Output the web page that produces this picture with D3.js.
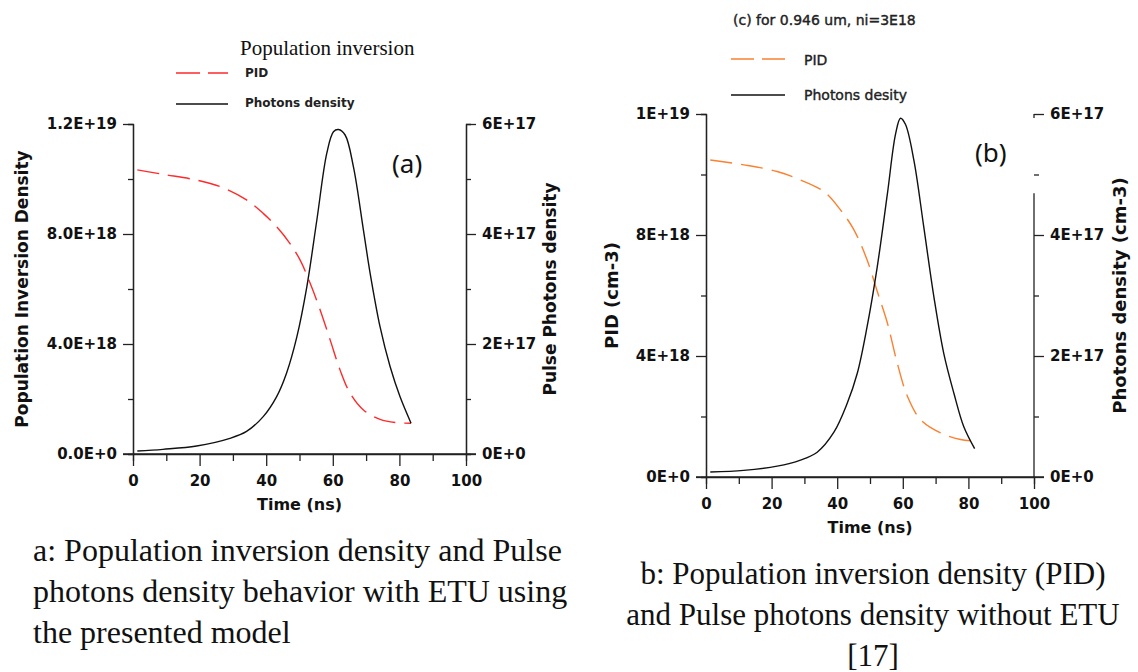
<!DOCTYPE html>
<html>
<head>
<meta charset="utf-8">
<script src="https://cdn.jsdelivr.net/npm/d3@7"></script>
<style>
body { margin: 0; background: #fff; }
svg { display: block; }
</style>
</head>
<body>
<script>
// panel (a): with ETU
var timePhotonsA = [1.3, 9, 19.1, 29.1, 34.1, 39.1, 43.1, 46.1, 49.2, 52.2, 55.2, 58.2, 60.2, 61.7, 63.7, 66.2, 69.2, 71.2, 74.2, 77.2, 80.2, 83.5]
var photonsA = [0.055, 0.085, 0.145, 0.285, 0.41, 0.68, 1.04, 1.47, 2.13, 3.04, 4.25, 5.47, 5.86, 5.90, 5.80, 5.22, 4.07, 3.29, 2.31, 1.59, 1.04, 0.56] // x1e17
var timePidA = [1.3, 9, 19.1, 27.1, 34.1, 39.1, 43.1, 47.1, 50.2, 53.2, 56.2, 59.2, 62.2, 65.2, 69.2, 74.2, 79.2, 83.5]
var pidA = [10.33, 10.17, 9.96, 9.68, 9.24, 8.75, 8.27, 7.66, 7.05, 6.21, 5.24, 4.15, 3.05, 2.21, 1.60, 1.26, 1.14, 1.12] // x1e18

// panel (b): without ETU
var timePhotonsB = [1.3, 11.5, 21.7, 28.8, 33.9, 39, 43, 46.1, 49.1, 52.2, 55.3, 57.8, 59.3, 60.8, 63.4, 66.4, 69.5, 72.5, 75.6, 78.6, 81.9]
var photonsB = [0.083, 0.11, 0.18, 0.28, 0.41, 0.74, 1.21, 1.71, 2.48, 3.47, 4.68, 5.67, 5.93, 5.83, 5.23, 4.13, 2.97, 2.04, 1.38, 0.83, 0.47]
var timePidB = [1.3, 11.5, 21.7, 28.8, 35.9, 41, 45.1, 49.1, 52.2, 55.3, 58.3, 61.4, 65.4, 71.5, 77.6, 81.7]
var pidB = [10.48, 10.32, 10.10, 9.82, 9.44, 8.83, 8.17, 7.18, 6.14, 5.09, 3.77, 2.67, 1.90, 1.46, 1.24, 1.19]

var xTicks = [0, 20, 40, 60, 80, 100]
var leftTickValues = [0, 4, 8, 12]
var leftLabelsA = ["0.0E+0", "4.0E+18", "8.0E+18", "1.2E+19"]
var leftLabelsB = ["0E+0", "4E+18", "8E+18", "1E+19"]
var rightTickValues = [0, 2, 4, 6]
var rightLabels = ["0E+0", "2E+17", "4E+17", "6E+17"]

var svgWidth = 1138
var svgHeight = 672
var sans = "DejaVu Sans"
var serif = "Liberation Serif"
var axisColor = "#222"

var svg = d3.select("body")
    .append("svg")
    .attr("width", svgWidth)
    .attr("height", svgHeight)

function styleAxis(g) {
    g.selectAll("path, line").attr("stroke", axisColor).attr("stroke-width", 1.3)
    g.selectAll("text")
        .attr("fill", "#111")
        .attr("font-family", sans)
        .attr("font-weight", "bold")
        .attr("font-size", "15px")
}

function drawPanel(p) {
    var x = d3.scaleLinear().domain([0, 100]).range([p.left, p.right])
    var yL = d3.scaleLinear().domain([0, 12]).range([p.bottom, p.top])
    var yR = d3.scaleLinear().domain([0, 6]).range([p.bottom, p.top])

    // minor ticks
    svg.append("g").attr("transform", `translate(0,${p.bottom})`)
        .call(d3.axisBottom(x).tickValues(d3.range(10, 100, 20)).tickSize(7).tickFormat(""))
        .call(styleAxis)
    svg.append("g").attr("transform", `translate(${p.left},0)`)
        .call(d3.axisLeft(yL).tickValues([2, 6, 10]).tickSize(5).tickFormat(""))
        .call(styleAxis)
    var rMinor = svg.append("g").attr("transform", `translate(${p.right},0)`)
        .call(d3.axisRight(yR).tickValues([1, 3, 5]).tickSize(5).tickFormat(""))
        .call(styleAxis)

    // major ticks
    var xAxis = svg.append("g").attr("transform", `translate(0,${p.bottom})`)
        .call(d3.axisBottom(x).tickValues(xTicks).tickSize(12).tickPadding(9).tickSizeOuter(0))
        .call(styleAxis)
    var yAxisL = svg.append("g").attr("transform", `translate(${p.left},0)`)
        .call(d3.axisLeft(yL).tickValues(leftTickValues).tickSize(10).tickPadding(6).tickSizeOuter(0)
            .tickFormat((d, i) => p.leftLabels[i]))
        .call(styleAxis)
    var yAxisR = svg.append("g").attr("transform", `translate(${p.right},0)`)
        .call(d3.axisRight(yR).tickValues(rightTickValues).tickSize(10).tickPadding(6).tickSizeOuter(0)
            .tickFormat((d, i) => rightLabels[i]))
        .call(styleAxis)

    // x axis line runs past the frame like in the source plot
    xAxis.select(".domain").remove()
    xAxis.append("line")
        .attr("x1", p.left - 10).attr("x2", p.right + 10)
        .attr("stroke", axisColor).attr("stroke-width", 1.3)

    if (p.brokenRight) {
        rMinor.select(".domain").remove()
        yAxisR.select(".domain").remove()
        yAxisR.append("line").attr("y1", yR(6)).attr("y2", yR(6) + 4)
            .attr("stroke", axisColor).attr("stroke-width", 1.3)
        yAxisR.append("line").attr("y1", yR(4.69)).attr("y2", p.bottom)
            .attr("stroke", axisColor).attr("stroke-width", 1.3)
    }

    // curves
    var pidLine = d3.line()
        .x((d, i) => x(p.timePid[i]))
        .y(d => yL(d))
        .curve(d3.curveCatmullRom.alpha(0.5))
    var photonLine = d3.line()
        .x((d, i) => x(p.timePhotons[i]))
        .y(d => yR(d))
        .curve(d3.curveCatmullRom.alpha(0.5))

    svg.append("path")
        .datum(p.pid)
        .attr("d", pidLine)
        .attr("fill", "none")
        .attr("stroke", p.pidColor)
        .attr("stroke-width", 1.4)
        .attr("stroke-dasharray", "22,9")
    svg.append("path")
        .datum(p.photons)
        .attr("d", photonLine)
        .attr("fill", "none")
        .attr("stroke", "#111")
        .attr("stroke-width", 1.4)

    // axis titles
    svg.append("text")
        .attr("x", (p.left + p.right) / 2)
        .attr("y", p.bottom + 56)
        .attr("text-anchor", "middle")
        .attr("font-family", sans).attr("font-weight", "bold").attr("font-size", "16px")
        .attr("fill", "#111")
        .text("Time (ns)")
    svg.append("text")
        .attr("transform", `translate(${p.leftTitleX},${(p.top + p.bottom) / 2}) rotate(-90)`)
        .attr("text-anchor", "middle")
        .attr("dy", "0.35em")
        .attr("font-family", sans).attr("font-weight", "bold").attr("font-size", p.titleSize)
        .attr("fill", "#111")
        .text(p.leftTitle)
    svg.append("text")
        .attr("transform", `translate(${p.rightTitleX},${(p.top + p.bottom) / 2}) rotate(-90)`)
        .attr("text-anchor", "middle")
        .attr("dy", "0.35em")
        .attr("font-family", sans).attr("font-weight", "bold").attr("font-size", p.titleSize)
        .attr("fill", "#111")
        .text(p.rightTitle)

    // panel tag
    svg.append("text")
        .attr("x", p.tagX).attr("y", p.tagY)
        .attr("font-family", "Noto Sans").attr("font-size", "26px")
        .attr("fill", "#111")
        .text(p.tag)
}

drawPanel({
    left: 133, right: 466, top: 124, bottom: 454,
    leftLabels: leftLabelsA,
    timePid: timePidA, pid: pidA, timePhotons: timePhotonsA, photons: photonsA,
    pidColor: "#ff2a2a",
    leftTitle: "Population Inversion Density", leftTitleX: 22,
    rightTitle: "Pulse Photons density", rightTitleX: 550,
    titleSize: "17px",
    tag: "(a)", tagX: 392, tagY: 173,
    brokenRight: false
})

drawPanel({
    left: 706, right: 1034, top: 114, bottom: 477,
    leftLabels: leftLabelsB,
    timePid: timePidB, pid: pidB, timePhotons: timePhotonsB, photons: photonsB,
    pidColor: "#fb8030",
    leftTitle: "PID (cm-3)", leftTitleX: 612,
    rightTitle: "Photons density (cm-3)", rightTitleX: 1120,
    titleSize: "18px",
    tag: "(b)", tagX: 975, tagY: 162,
    brokenRight: true
})

// legend (a)
svg.append("text")
    .attr("x", 240).attr("y", 55)
    .attr("font-family", serif).attr("font-size", "21px")
    .attr("fill", "#111")
    .text("Population inversion")
svg.append("line")
    .attr("x1", 176).attr("x2", 228).attr("y1", 73).attr("y2", 73)
    .attr("stroke", "#ff2a2a").attr("stroke-width", 1.4).attr("stroke-dasharray", "24,8")
svg.append("line")
    .attr("x1", 176).attr("x2", 228).attr("y1", 104).attr("y2", 104)
    .attr("stroke", "#111").attr("stroke-width", 1.4)
svg.append("text")
    .attr("x", 245).attr("y", 73).attr("dy", "0.35em")
    .attr("font-family", sans).attr("font-weight", "bold").attr("font-size", "12px")
    .attr("fill", "#222")
    .text("PID")
svg.append("text")
    .attr("x", 245).attr("y", 103).attr("dy", "0.35em")
    .attr("font-family", sans).attr("font-weight", "bold").attr("font-size", "12px")
    .attr("fill", "#222")
    .text("Photons density")

// legend (b)
var legendB = svg.append("g")
    .attr("font-family", sans).attr("font-size", "14px")
    .attr("fill", "#222").attr("stroke", "#222").attr("stroke-width", 0.4)
legendB.append("text")
    .attr("x", 733).attr("y", 20).attr("dy", "0.35em")
    .text("(c) for 0.946 um, ni=3E18")
legendB.append("text")
    .attr("x", 804).attr("y", 60).attr("dy", "0.35em")
    .text("PID")
legendB.append("text")
    .attr("x", 804).attr("y", 95).attr("dy", "0.35em")
    .text("Photons desity")
svg.append("line")
    .attr("x1", 731).attr("x2", 785).attr("y1", 59).attr("y2", 59)
    .attr("stroke", "#fb8030").attr("stroke-width", 1.4).attr("stroke-dasharray", "23,8")
svg.append("line")
    .attr("x1", 731).attr("x2", 785).attr("y1", 95).attr("y2", 95)
    .attr("stroke", "#111").attr("stroke-width", 1.4)

// captions
var captionA = ["a: Population inversion density and Pulse", "photons density behavior with ETU using", "the presented model"]
var captionB = ["b: Population inversion density (PID)", "and Pulse photons density without ETU", "[17]"]

svg.append("g").selectAll("text")
    .data(captionA)
    .enter()
    .append("text")
    .attr("x", 33)
    .attr("y", (d, i) => 561 + i * 41)
    .attr("font-family", serif).attr("font-size", "32px")
    .attr("fill", "#111")
    .text(d => d)

svg.append("g").selectAll("text")
    .data(captionB)
    .enter()
    .append("text")
    .attr("x", 873)
    .attr("y", (d, i) => 584 + i * 41)
    .attr("text-anchor", "middle")
    .attr("font-family", serif).attr("font-size", "31px")
    .attr("fill", "#111")
    .text(d => d)
</script>
</body>
</html>
